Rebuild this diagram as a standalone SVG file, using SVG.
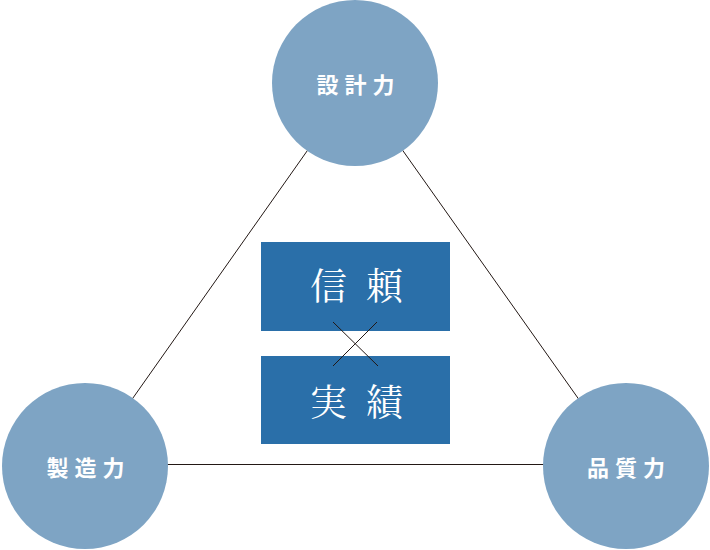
<svg xmlns="http://www.w3.org/2000/svg" width="710" height="550" viewBox="0 0 710 550">
<style>
.conn{stroke:#231815;stroke-width:1;fill:none}
.circ{fill:#7ea4c4}
.box{fill:#2a6fa9}
.lbl{font-family:"Noto Sans CJK JP","Noto Sans CJK SC",sans-serif;font-weight:bold;font-size:22px;letter-spacing:6px;fill:#ffffff}
.big{font-family:"Noto Serif CJK JP","Noto Serif JP","Noto Sans CJK JP",serif;font-size:37px;letter-spacing:19px;fill:#ffffff}
</style>
<rect width="710" height="550" fill="#ffffff"/>
<g id="connectors">
<line class="conn" x1="355" y1="83" x2="85" y2="466"/>
<line class="conn" x1="355" y1="83" x2="626" y2="466"/>
<line class="conn" x1="85" y1="464.5" x2="626" y2="464.5"/>
</g>
<g id="node-sekkei">
<circle class="circ" cx="355" cy="83" r="83"/>
<text class="lbl" x="316.5" y="92.5">設計力</text>
</g>
<g id="node-seizo">
<circle class="circ" cx="85" cy="466" r="83"/>
<text class="lbl" x="46.5" y="475.5">製造力</text>
</g>
<g id="node-hinshitsu">
<circle class="circ" cx="626" cy="466" r="83"/>
<text class="lbl" x="587" y="475.5">品質力</text>
</g>
<g id="node-shinrai">
<rect class="box" x="261" y="242" width="189" height="89"/>
<text class="big" x="310" y="300">信頼</text>
</g>
<g id="node-jisseki">
<rect class="box" x="261" y="356" width="189" height="88"/>
<text class="big" x="310" y="416">実績</text>
</g>
<g id="cross">
<line class="conn" x1="333" y1="322" x2="378" y2="366"/>
<line class="conn" x1="377" y1="322" x2="333" y2="366"/>
</g>
</svg>
